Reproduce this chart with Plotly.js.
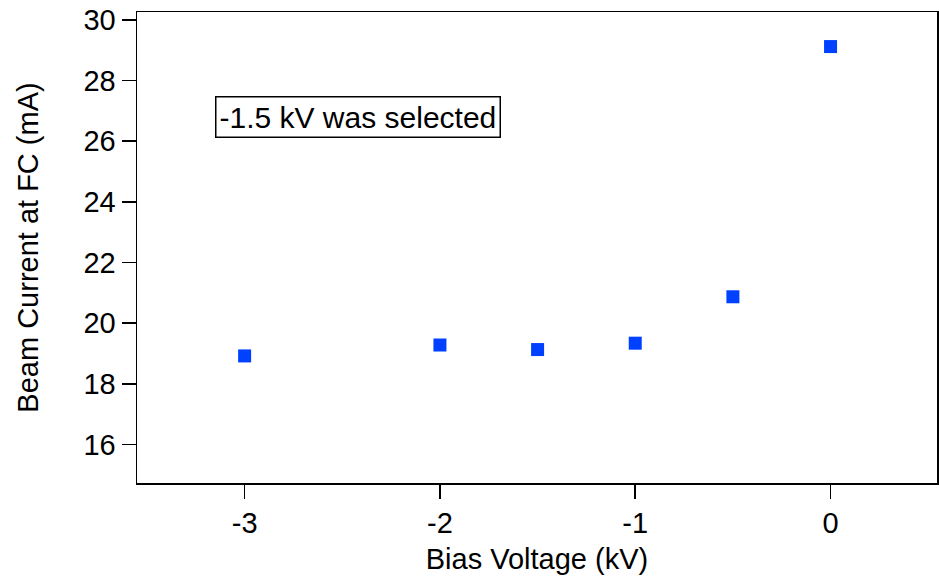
<!DOCTYPE html>
<html>
<head>
<meta charset="utf-8">
<script src="https://cdn.plot.ly/plotly-3.0.1.min.js"></script>
<style>
  html, body { margin: 0; padding: 0; background: #fff; }
  #chart { width: 939px; height: 579px; }
</style>
</head>
<body>
<div id="chart"></div>
<script>
// Beam current measured at the Faraday cup versus bias voltage
const biasVoltage = [-3, -2, -1.5, -1, -0.5, 0];
const beamCurrent = [18.92, 19.28, 19.13, 19.34, 20.87, 29.12];
const xTicks = [-3, -2, -1, 0];
const yTicks = [16, 18, 20, 22, 24, 26, 28, 30];
const noteText = '-1.5 kV was selected';

const font = { family: 'Liberation Sans, Arial, sans-serif', color: '#000' };

const trace = {
  x: biasVoltage,
  y: beamCurrent,
  type: 'scatter',
  mode: 'markers',
  marker: { symbol: 'square', size: 13, color: 'rgb(0,64,255)' },
  hoverinfo: 'x+y'
};

const axisCommon = {
  showgrid: false,
  zeroline: false,
  showline: true,
  mirror: true,
  linecolor: '#000',
  linewidth: 1.5,
  ticks: 'outside',
  ticklen: 14,
  tickwidth: 1.5,
  tickcolor: '#000',
  tickfont: Object.assign({ size: 29 }, font)
};

const layout = {
  width: 939,
  height: 579,
  margin: { l: 137, r: 2, t: 12, b: 96 },
  paper_bgcolor: '#fff',
  plot_bgcolor: '#fff',
  showlegend: false,
  xaxis: Object.assign({}, axisCommon, {
    range: [-3.551, 0.545],
    tickmode: 'array',
    tickvals: xTicks,
    ticktext: xTicks.map(String),
    title: { text: 'Bias Voltage (kV)', font: Object.assign({ size: 29 }, font), standoff: 10 }
  }),
  yaxis: Object.assign({}, axisCommon, {
    range: [14.73, 30.26],
    tickmode: 'array',
    tickvals: yTicks,
    ticktext: yTicks.map(String),
    title: { text: 'Beam Current at FC (mA)', font: Object.assign({ size: 29 }, font), standoff: 36 }
  }),
  annotations: [{
    x: -2.42,
    y: 26.8,
    xref: 'x',
    yref: 'y',
    text: noteText,
    showarrow: false,
    font: Object.assign({ size: 30 }, font),
    bordercolor: '#000',
    borderwidth: 1.5,
    borderpad: 3,
    bgcolor: '#fff'
  }]
};

Plotly.newPlot('chart', [trace], layout, { displayModeBar: false, staticPlot: true });
</script>
</body>
</html>
